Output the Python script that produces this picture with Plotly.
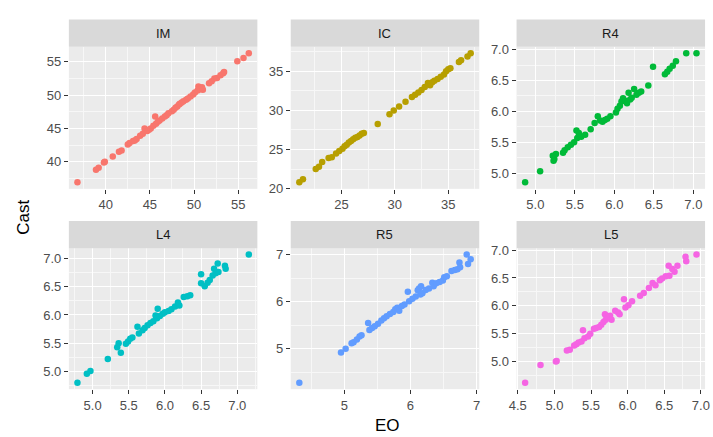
import math
import plotly.graph_objects as go

# Facet order and colours (ggplot2 default hue palette)
panels = ["IM", "IC", "R4", "L4", "R5", "L5"]
colors = ["#F8766D", "#B79F00", "#00BA38", "#00BFC4", "#619CFF", "#F564E3"]

# EO (x) and Cast (y) measurements per facet
im_eo = [36.8, 38.9, 39.2, 39.8, 39.9, 40.8, 41.5, 41.8, 42.5, 42.7, 43.1, 43.3, 43.5, 43.9,
         44.2, 44.4, 44.7, 44.9, 45.1, 45.4, 45.6, 45.7, 45.9, 46.1, 46.4, 46.7, 46.9, 47.1,
         47.5, 47.7, 47.9, 48.1, 48.3, 48.4, 48.6, 48.8, 49.1, 49.3, 49.6, 49.9, 50.1, 50.4,
         50.5, 50.7, 50.9, 51.0, 51.7, 52.0, 52.3, 52.6, 53.0, 53.3, 53.4, 54.9, 55.6, 56.2]
im_cast = [36.9, 38.8, 39.1, 39.9, 40.0, 40.8, 41.5, 41.7, 42.6, 42.8, 43.1, 43.2, 43.4, 43.9,
           44.2, 45.0, 44.6, 44.8, 45.0, 45.4, 46.8, 45.7, 46.0, 46.2, 46.5, 46.8, 47.0, 47.3,
           47.6, 47.8, 48.1, 48.3, 48.6, 48.7, 48.9, 49.1, 49.3, 49.5, 49.8, 50.1, 50.4, 50.7,
           51.3, 50.9, 51.2, 50.8, 51.8, 52.1, 52.5, 52.6, 53.0, 53.3, 53.5, 55.1, 55.6, 56.3]

ic_eo = [21.06, 21.4, 22.6, 22.9, 23.2, 23.8, 24.1, 24.5, 24.8, 25.1, 25.3, 25.5, 25.7, 25.9,
         26.1, 26.3, 26.5, 26.7, 26.9, 27.1, 28.4, 29.5, 29.9, 30.4, 31.0, 31.6, 31.9, 32.2,
         32.5, 32.8, 33.1, 33.3, 33.5, 33.7, 34.0, 34.3, 34.6, 34.8, 35.0, 35.2, 36.0, 36.2,
         36.8, 37.1]
ic_cast = [20.8, 21.2, 22.5, 22.8, 23.4, 23.9, 24.0, 24.5, 24.8, 25.1, 25.4, 25.6, 25.9, 26.1,
           26.3, 26.5, 26.6, 26.8, 27.0, 27.1, 28.25, 29.5, 30.0, 30.5, 31.1, 31.7, 32.0, 32.3,
           32.6, 33.0, 33.5, 33.2, 33.6, 33.8, 34.0, 34.3, 34.6, 35.0, 35.25, 35.4, 36.2, 36.4,
           36.9, 37.3]

r4_eo = [4.87, 5.06, 5.22, 5.24, 5.23, 5.26, 5.35, 5.37, 5.41, 5.45, 5.49, 5.52, 5.55, 5.53,
         5.58, 5.63, 5.70, 5.75, 5.79, 5.82, 5.85, 5.88, 5.91, 5.95, 6.02, 6.04, 6.07, 6.09,
         6.11, 6.14, 6.16, 6.18, 6.20, 6.22, 6.25, 6.28, 6.31, 6.34, 6.43, 6.49, 6.64, 6.67,
         6.70, 6.74, 6.78, 6.91, 7.04]
r4_cast = [4.85, 5.03, 5.28, 5.23, 5.20, 5.31, 5.33, 5.37, 5.42, 5.46, 5.50, 5.69, 5.65, 5.57,
           5.59, 5.62, 5.71, 5.81, 5.92, 5.85, 5.83, 5.86, 5.88, 5.92, 5.98, 6.04, 6.09, 6.16,
           6.21, 6.17, 6.13, 6.30, 6.19, 6.22, 6.36, 6.27, 6.30, 6.32, 6.42, 6.72, 6.60, 6.64,
           6.69, 6.74, 6.81, 6.94, 6.94]

l4_eo = [4.79, 4.92, 4.97, 5.21, 5.34, 5.36, 5.39, 5.46, 5.49, 5.52, 5.55, 5.62, 5.64, 5.69,
         5.72, 5.76, 5.80, 5.84, 5.87, 5.90, 5.89, 5.93, 5.97, 6.00, 6.05, 6.09, 6.14, 6.18,
         6.20, 6.26, 6.31, 6.35, 6.50, 6.50, 6.55, 6.59, 6.62, 6.66, 6.68, 6.70, 6.73, 6.74,
         6.83, 6.84, 7.16]
l4_cast = [4.80, 4.96, 5.01, 5.22, 5.43, 5.50, 5.33, 5.49, 5.53, 5.58, 5.60, 5.79, 5.67, 5.73,
           5.77, 5.82, 5.86, 5.89, 5.99, 6.11, 5.94, 5.98, 6.02, 6.05, 6.07, 6.10, 6.15, 6.22,
           6.17, 6.32, 6.33, 6.35, 6.72, 6.56, 6.51, 6.57, 6.62, 6.70, 6.82, 6.74, 6.91, 6.76,
           6.87, 6.82, 7.07]

r5_eo = [4.32, 4.95, 5.02, 5.11, 5.14, 5.19, 5.23, 5.26, 5.36, 5.38, 5.42, 5.46, 5.51, 5.56,
         5.60, 5.64, 5.69, 5.74, 5.77, 5.80, 5.83, 5.87, 5.91, 5.96, 5.98, 6.03, 6.08, 6.11,
         6.13, 6.16, 6.15, 6.18, 6.23, 6.28, 6.33, 6.35, 6.39, 6.44, 6.49, 6.51, 6.55, 6.62,
         6.67, 6.71, 6.74, 6.75, 6.85, 6.87, 6.91]
r5_cast = [4.28, 4.92, 5.00, 5.12, 5.14, 5.20, 5.26, 5.29, 5.55, 5.40, 5.44, 5.48, 5.53, 5.60,
           5.65, 5.69, 5.74, 5.78, 5.84, 5.87, 5.81, 5.91, 5.94, 6.21, 6.01, 6.06, 6.11, 6.24,
           6.28, 6.33, 6.15, 6.18, 6.25, 6.28, 6.40, 6.33, 6.39, 6.42, 6.45, 6.52, 6.54, 6.65,
           6.67, 6.69, 6.83, 6.73, 7.00, 6.80, 6.90]

l5_eo = [4.60, 4.81, 5.03, 5.02, 5.17, 5.21, 5.27, 5.30, 5.33, 5.37, 5.39, 5.41, 5.46, 5.49,
         5.54, 5.57, 5.61, 5.64, 5.67, 5.69, 5.70, 5.73, 5.76, 5.78, 5.83, 5.87, 5.89, 5.95,
         5.97, 6.01, 6.06, 6.17, 6.22, 6.29, 6.34, 6.38, 6.44, 6.47, 6.52, 6.56, 6.57, 6.61,
         6.64, 6.68, 6.79, 6.80, 6.94]
l5_cast = [4.62, 4.94, 5.01, 5.00, 5.20, 5.21, 5.29, 5.31, 5.34, 5.36, 5.56, 5.42, 5.45, 5.50,
           5.59, 5.60, 5.62, 5.66, 5.71, 5.85, 5.75, 5.79, 5.82, 5.75, 5.91, 5.88, 5.85, 6.12,
           5.97, 6.01, 6.08, 6.18, 6.23, 6.32, 6.41, 6.37, 6.46, 6.49, 6.53, 6.72, 6.54, 6.66,
           6.61, 6.72, 6.88, 6.80, 6.92]

xs = [im_eo, ic_eo, r4_eo, l4_eo, r5_eo, l5_eo]
ys = [im_cast, ic_cast, r4_cast, l4_cast, r5_cast, l5_cast]

# Tick steps per facet and label format
x_steps = [5, 5, 0.5, 0.5, 1, 0.5]
y_steps = [5, 5, 0.5, 0.5, 1, 0.5]
fmts = ["d", "d", ".1f", ".1f", "d", ".1f"]

W, H = 713, 437
col_px = [(62, 254), (288, 480), (518, 710)]
row_px = [(43, 189), (250, 395)]       # panel top/bottom in pixels
strip_px = [(15, 43), (222, 250)]      # strip top/bottom in pixels

FONT = "Liberation Sans, Arial, sans-serif"
fig = go.Figure()
layout = dict(
    width=W, height=H, margin=dict(l=0, r=0, t=0, b=0),
    paper_bgcolor="white", plot_bgcolor="#EBEBEB", showlegend=False,
    font=dict(family=FONT),
)
shapes, annotations = [], []


def expand(vals):
    lo, hi = min(vals), max(vals)
    pad = (hi - lo) * 0.05
    return [lo - pad, hi + pad]


def minor_breaks(rng, step):
    # midpoints between major breaks, covering the visible range
    k0 = math.floor(rng[0] / step)
    k1 = math.ceil(rng[1] / step)
    return [round((k + 0.5) * step, 6) for k in range(k0, k1)
            if rng[0] <= (k + 0.5) * step <= rng[1]]


for i, name in enumerate(panels):
    r, c = divmod(i, 3)
    n = "" if i == 0 else str(i + 1)
    fig.add_trace(go.Scatter(
        x=xs[i], y=ys[i], mode="markers",
        marker=dict(color=colors[i], size=6.5, line=dict(width=0)),
        xaxis="x" + n, yaxis="y" + n, hoverinfo="x+y",
    ))
    x0, x1 = col_px[c]
    t, b = row_px[r]
    xr, yr = expand(xs[i]), expand(ys[i])
    common = dict(
        showline=False, zeroline=False, ticks="outside", ticklen=4, tickwidth=1,
        tickcolor="#333333", gridcolor="white", gridwidth=1.2,
        tickfont=dict(family=FONT, size=13, color="#4D4D4D"),
        ticklabeloverflow="allow",
    )
    layout["xaxis" + n] = dict(
        domain=[x0 / W, x1 / W], anchor="y" + n, range=xr,
        tick0=0, dtick=x_steps[i], tickformat=fmts[i],
        minor=dict(showgrid=True, gridcolor="#F7F7F7", gridwidth=1,
                   tickmode="array", tickvals=minor_breaks(xr, x_steps[i]), ticks=""),
        **common,
    )
    layout["yaxis" + n] = dict(
        domain=[1 - b / H, 1 - t / H], anchor="x" + n, range=yr,
        tick0=0, dtick=y_steps[i], tickformat=fmts[i],
        minor=dict(showgrid=True, gridcolor="#F7F7F7", gridwidth=1,
                   tickmode="array", tickvals=minor_breaks(yr, y_steps[i]), ticks=""),
        **common,
    )
    st, sb = strip_px[r]
    shapes.append(dict(type="rect", xref="paper", yref="paper",
                       x0=x0 / W, x1=x1 / W, y0=1 - sb / H, y1=1 - st / H,
                       fillcolor="#D9D9D9", line=dict(width=0), layer="above"))
    annotations.append(dict(text=name, xref="paper", yref="paper",
                            x=(x0 + x1) / 2 / W, y=1 - (st + sb) / 2 / H,
                            showarrow=False, xanchor="center", yanchor="middle",
                            font=dict(family=FONT, size=13, color="#1A1A1A")))

# Shared axis titles
annotations.append(dict(text="EO", xref="paper", yref="paper", x=387 / W, y=1 - 432 / H,
                        showarrow=False, xanchor="center", yanchor="middle",
                        font=dict(family=FONT, size=17, color="black")))
annotations.append(dict(text="Cast", xref="paper", yref="paper", x=15 / W, y=1 - 218 / H,
                        showarrow=False, xanchor="center", yanchor="middle", textangle=-90,
                        font=dict(family=FONT, size=17, color="black")))

layout["shapes"] = shapes
layout["annotations"] = annotations
fig.update_layout(**layout)
fig.write_html("out.html")
